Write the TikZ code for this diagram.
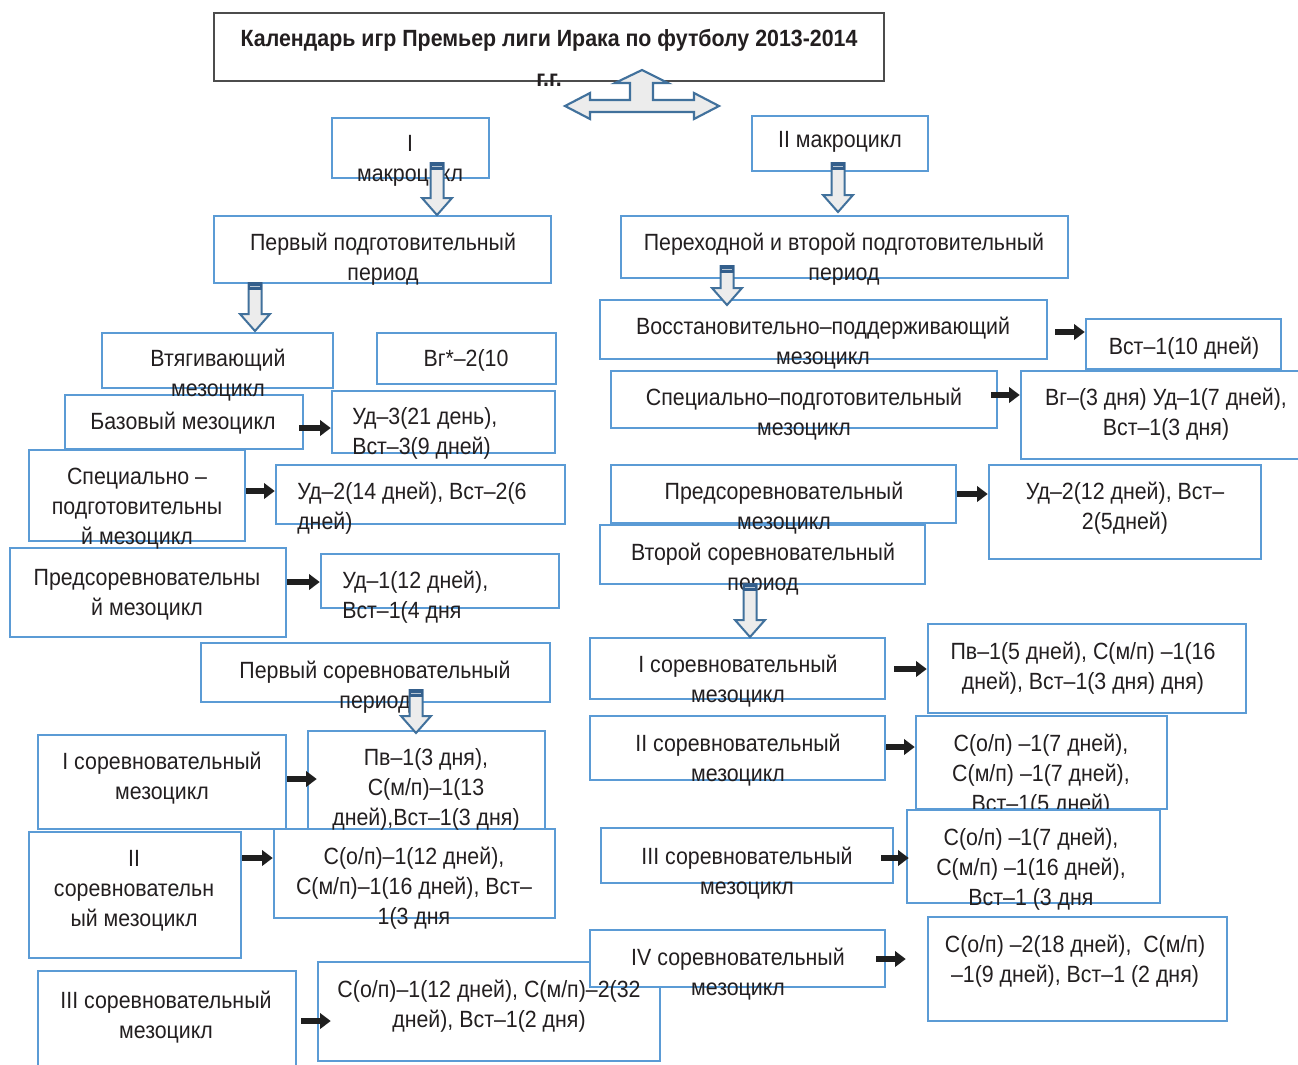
\documentclass[tikz,border=0pt]{standalone}
\usepackage{fontspec}
\setmainfont{Liberation Sans}[FakeStretch=0.91]
\usetikzlibrary{fit,arrows.meta}
\definecolor{boxblue}{RGB}{91,155,213}
\definecolor{arrblue}{RGB}{65,113,156}
\definecolor{arrcap}{RGB}{52,95,140}
\definecolor{arrfill}{RGB}{236,236,236}
\definecolor{txtc}{RGB}{35,31,32}
\newcommand\fsz{\fontsize{17.6}{22.5}\selectfont}
\newcommand\blockarrow[3]{%
  \filldraw[arrblue, fill=arrfill, line width=1.5pt, line join=miter]
    (#1-6.5,#2) -- (#1+6.5,#2) -- (#1+6.5,#3-17) -- (#1+15,#3-17) -- (#1,#3)
    -- (#1-15,#3-17) -- (#1-6.5,#3-17) -- cycle;
  \fill[arrcap] (#1-7.3,#2-1) rectangle (#1+7.3,#2+7);
  \draw[arrfill!70!arrblue, line width=0.6pt] (#1-5,#2+3) -- (#1+5,#2+3);
}
\tikzset{
  box/.style={draw=boxblue, line width=1.9pt, fill=white, inner sep=0pt},
  tbox/.style={draw=black!70, line width=1pt, fill=white, inner sep=0pt},
  txt/.style={anchor=north, inner sep=0pt, align=center, text=txtc, font=\fsz, yshift=-1.5pt},
  txtl/.style={txt, anchor=north west, align=left},
  blk/.style={draw=black!88, line width=4.5pt, -{Triangle[length=8pt,width=11.5pt]}},
}
\begin{document}
\begin{tikzpicture}[x=0.75pt,y=-0.75pt]
\useasboundingbox (0,0) rectangle (1298,1064);
\fill[white] (0,0) rectangle (1298,1064);

% ---------- boxes ----------
\node[tbox, fit={(214,13)(884,81)}] (title) {};
\node[box, fit={(332,118)(489,178)}] (mac1) {};
\node[box, fit={(214,216)(551,283)}] (per1) {};
\node[box, fit={(102,333)(333,388)}] (vtyag) {};
\node[box, fit={(377,333)(556,384)}] (vg) {};
\node[box, fit={(65,395)(303,449)}] (baz) {};
\node[box, fit={(332,391)(555,453)}] (ud3) {};
\node[box, fit={(29,450)(245,541)}] (spec) {};
\node[box, fit={(276,465)(565,524)}] (ud2) {};
\node[box, fit={(10,548)(286,637)}] (predl) {};
\node[box, fit={(321,554)(559,608)}] (ud1) {};
\node[box, fit={(201,643)(550,702)}] (sor1) {};
\node[box, fit={(38,735)(286,829)}] (isor) {};
\node[box, fit={(308,731)(545,829)}] (pv) {};
\node[box, fit={(29,832)(241,958)}] (iisor) {};
\node[box, fit={(274,829)(555,918)}] (coa) {};
\node[box, fit={(38,971)(296,1068)}] (iiisor) {};
\node[box, fit={(318,962)(660,1061)}] (cob) {};

\node[box, fit={(752,116)(928,171)}] (mac2) {};
\node[box, fit={(621,216)(1068,278)}] (per2) {};
\node[box, fit={(600,300)(1047,359)}] (vost) {};
\node[box, fit={(1086,319)(1281,369)}] (vst10) {};
\node[box, fit={(611,371)(997,428)}] (spec2) {};
\node[box, fit={(1021,371)(1302,459)}] (vg2) {};
\node[box, fit={(611,465)(956,523)}] (pred2) {};
\node[box, fit={(989,465)(1261,559)}] (ud22) {};
\node[box, fit={(600,525)(925,584)}] (sor2) {};
\node[box, fit={(590,638)(885,699)}] (isor2) {};
\node[box, fit={(928,624)(1246,713)}] (pv2) {};
\node[box, fit={(590,716)(885,780)}] (iisor2) {};
\node[box, fit={(916,716)(1167,809)}] (coc) {};
\node[box, fit={(601,828)(893,883)}] (iiisor2) {};
\node[box, fit={(590,930)(885,987)}] (ivsor) {};
\node[box, fit={(928,917)(1227,1021)}] (coe) {};

% ---------- texts ----------
\node[txt, font=\fsz\bfseries] (ttitle) at (549,23) {\strut Календарь игр Премьер лиги Ирака по футболу 2013-2014\\[7.5pt] г.г.};
\node[txt] (tmac1) at (410,128) {\strut I\\макроцикл};
\node[txt] (tper1) at (383,227) {\strut Первый подготовительный\\период};
\node[txt] (tvtyag) at (218,343) {\strut Втягивающий\\мезоцикл};
\node[txt] (tvg) at (466,343) {\strut Вг*–2(10};
\node[txt] (tbaz) at (183,406) {\strut Базовый мезоцикл};
\node[txtl] (tud3) at (352,401) {\strut Уд–3(21 день),\\Вст–3(9 дней)};
\node[txt] (tspec) at (137,461) {\strut Специально –\\подготовительны\\й мезоцикл};
\node[txtl] (tud2) at (297,476) {\strut Уд–2(14 дней), Вст–2(6\\дней)};
\node[txt] (tpredl) at (147,562) {\strut Предсоревновательны\\й мезоцикл};
\node[txtl] (tud1) at (342,565) {\strut Уд–1(12 дней),\\Вст–1(4 дня};
\node[txt] (tsor1) at (375,655) {\strut Первый соревновательный\\период};
\node[txt] (tisor) at (162,746) {\strut I соревновательный\\мезоцикл};
\node[txt] (tpv) at (426,742) {\strut Пв–1(3 дня),\\С(м/п)–1(13\\дней),Вст–1(3 дня)};
\node[txt] (tiisor) at (134,843) {\strut II\\соревновательн\\ый мезоцикл};
\node[txt] (tcoa) at (414,841) {\strut С(о/п)–1(12 дней),\\С(м/п)–1(16 дней), Вст–\\1(3 дня};
\node[txt] (tiiisor) at (166,985) {\strut III соревновательный\\мезоцикл};
\node[txt] (tcob) at (489,974) {\strut С(о/п)–1(12 дней), С(м/п)–2(32\\дней), Вст–1(2 дня)};

\node[txt] (tmac2) at (840,124) {\strut II макроцикл};
\node[txt] (tper2) at (844,227) {\strut Переходной и второй подготовительный\\период};
\node[txt] (tvost) at (823,311) {\strut Восстановительно–поддерживающий\\мезоцикл};
\node[txt] (tvst10) at (1184,331) {\strut Вст–1(10 дней)};
\node[txt] (tspec2) at (804,382) {\strut Специально–подготовительный\\мезоцикл};
\node[txt] (tvg2) at (1166,382) {\strut Вг–(3 дня) Уд–1(7 дней),\\Вст–1(3 дня)};
\node[txt] (tpred2) at (784,476) {\strut Предсоревновательный\\мезоцикл};
\node[txt] (tud22) at (1125,476) {\strut Уд–2(12 дней), Вст–\\2(5дней)};
\node[txt] (tsor2) at (763,537) {\strut Второй соревновательный\\период};
\node[txt] (tisor2) at (738,649) {\strut I соревновательный\\мезоцикл};
\node[txt] (tpv2) at (1083,636) {\strut Пв–1(5 дней), С(м/п) –1(16\\дней), Вст–1(3 дня) дня)};
\node[txt] (tiisor2) at (738,728) {\strut II соревновательный\\мезоцикл};
\node[txt] (tcoc) at (1041,728) {\strut С(о/п) –1(7 дней),\\С(м/п) –1(7 дней),\\Вст–1(5 дней)};
\node[txt] (tiiisor2) at (747,841) {\strut III соревновательный\\мезоцикл};
\node[txt] (tivsor) at (738,942) {\strut IV соревновательный\\мезоцикл};
\node[txt] (tcoe) at (1075,929) {\strut С(о/п) –2(18 дней),\ \ С(м/п)\\–1(9 дней), Вст–1 (2 дня)};

% box drawn over the text above it
\node[box, fit={(907,810)(1160,903)}] (cod) {};
\node[txt] (tcod) at (1031,822) {\strut С(о/п) –1(7 дней),\\С(м/п) –1(16 дней),\\Вст–1 (3 дня};

% ---------- black arrows ----------
\draw[blk, shorten <=-3.75pt] (baz.east |- 0,428) -- (ud3.west |- 0,428);
\draw[blk] (spec.east |- 0,491) -- (ud2.west |- 0,491);
\draw[blk] (predl.east |- 0,582) -- (ud1.west |- 0,582);
\draw[blk, shorten >=-7.5pt] (isor.east |- 0,779) -- (pv.west |- 0,779);
\draw[blk] (iisor.east |- 0,858) -- (coa.west |- 0,858);
\draw[blk, shorten <=3pt, shorten >=-10.5pt] (iiisor.east |- 0,1021) -- (cob.west |- 0,1021);
\draw[blk, shorten <=5.25pt] (vost.east |- 0,332) -- (vst10.west |- 0,332);
\draw[blk, shorten <=-5.25pt] (spec2.east |- 0,395) -- (vg2.west |- 0,395);
\draw[blk] (pred2.east |- 0,494) -- (ud22.west |- 0,494);
\draw[blk, shorten <=6pt] (isor2.east |- 0,669) -- (pv2.west |- 0,669);
\draw[blk] (iisor2.east |- 0,747) -- (coc.west |- 0,747);
\draw[blk, shorten <=-9.75pt, shorten >=-2.25pt] (iiisor2.east |- 0,858) -- (cod.west |- 0,858);
\draw[blk, shorten <=-7.5pt, shorten >=15.75pt] (ivsor.east |- 0,959) -- (coe.west |- 0,959);

% ---------- block arrows ----------
\blockarrow{437}{163}{215}
\blockarrow{255}{283}{331}
\blockarrow{838}{163}{212}
\blockarrow{727}{266}{305}
\blockarrow{750}{584}{637}
\blockarrow{416}{690}{733}

% triple arrow under the title
\filldraw[arrblue, fill=arrfill, line width=1.6pt, line join=miter]
  (565,106) -- (590,93) -- (590,100) -- (630,100) -- (630,83) -- (615,83)
  -- (642,70) -- (668,83) -- (653,83) -- (653,100) -- (694,100) -- (694,93)
  -- (719,106) -- (694,119) -- (694,112) -- (590,112) -- (590,119) -- cycle;
\end{tikzpicture}
\end{document}
